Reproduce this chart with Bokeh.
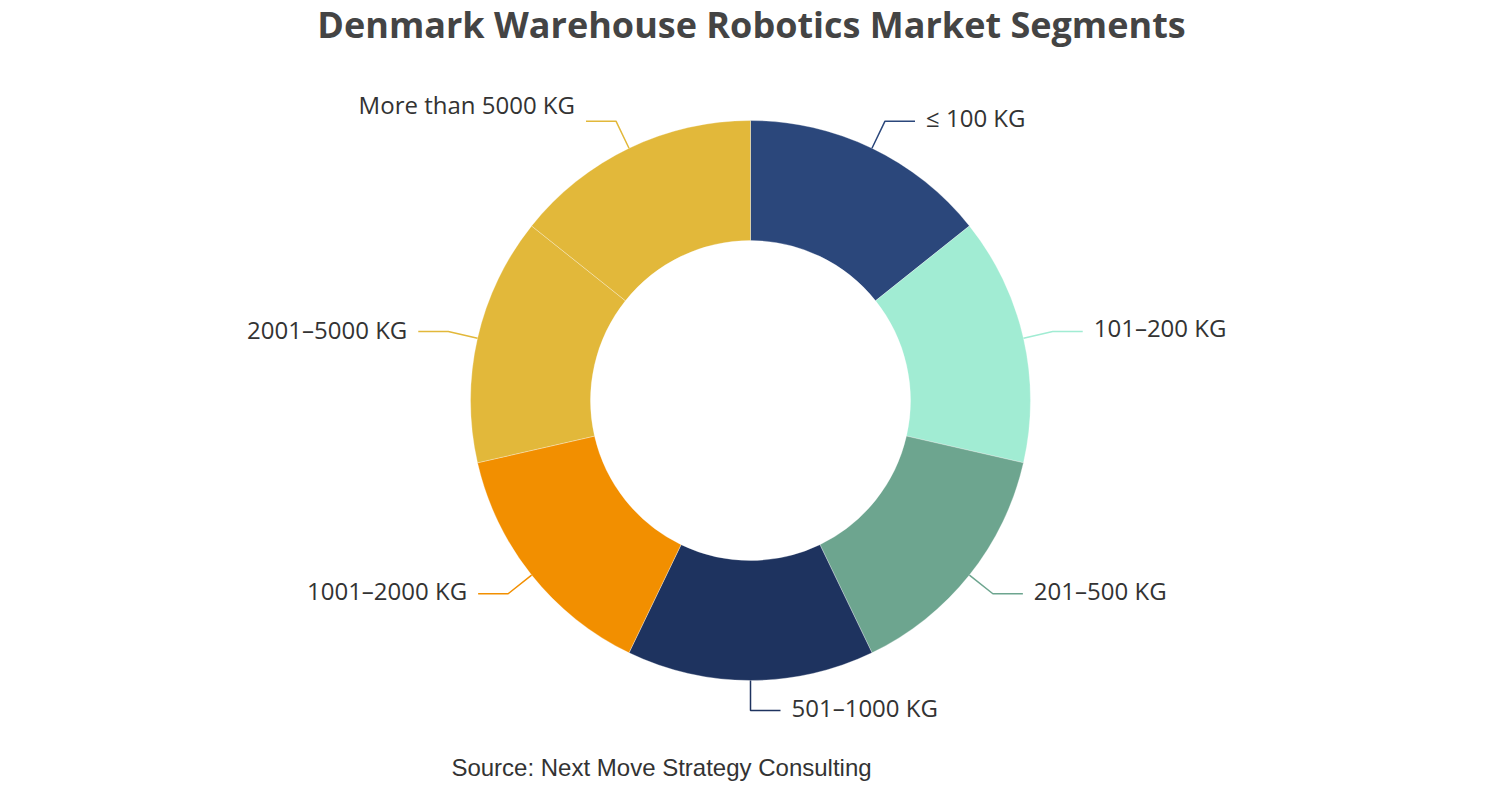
import math
from bokeh.plotting import figure
from bokeh.models import Range1d, ColumnDataSource
from bokeh.core.properties import value
from bokeh.embed import file_html
from bokeh.resources import INLINE

# ---- data ----
categories = ["≤ 100 KG", "101–200 KG", "201–500 KG", "501–1000 KG",
              "1001–2000 KG", "2001–5000 KG", "More than 5000 KG"]
shares = [1, 1, 1, 1, 1, 1, 1]
colors = ["#2b477b", "#a1ecd3", "#6da58f", "#1e335f", "#f28f00", "#e2b83a", "#e2b83a"]
title_text = "Denmark Warehouse Robotics Market Segments"
source_text = "Source: Next Move Strategy Consulting"

W, H = 1486, 784
cx, cy = 750, H - 400
r_in, r_out = 160, 280
r_elbow = 310
h_len = 30
gap = 11
# vertical nudge of each label relative to its leader line (px, up)
label_lift = [4, 4, 3, 3, 3, 2, 17]

p = figure(width=W, height=H, output_backend="svg", toolbar_location=None,
           x_range=Range1d(0, W), y_range=Range1d(0, H), min_border=0)
p.axis.visible = False
p.grid.visible = False
p.outline_line_color = None
p.background_fill_color = "white"
p.border_fill_color = "white"

total = float(sum(shares))
starts, ends, mids = [], [], []
acc = 0.0
for s in shares:
    a0 = math.pi / 2 - 2 * math.pi * acc / total
    acc += s
    a1 = math.pi / 2 - 2 * math.pi * acc / total
    starts.append(a0)
    ends.append(a1)
    mids.append((a0 + a1) / 2)

src = ColumnDataSource(dict(start=starts, end=ends, color=colors,
                            x=[cx] * len(shares), y=[cy] * len(shares)))
p.annular_wedge(x="x", y="y", inner_radius=r_in, outer_radius=r_out,
                start_angle="start", end_angle="end", direction="clock",
                fill_color="color", line_color="white", line_width=0.6,
                line_alpha=0.5, source=src)

# leader lines and labels
for lab, col, m, lift in zip(categories, colors, mids, label_lift):
    x0 = cx + r_out * math.cos(m)
    y0 = cy + r_out * math.sin(m)
    x1 = cx + r_elbow * math.cos(m)
    y1 = cy + r_elbow * math.sin(m)
    right = math.cos(m) >= -1e-9
    x2 = x1 + h_len if right else x1 - h_len
    p.line([x0, x1, x2], [y0, y1, y1], line_color=col, line_width=1.5)
    tx = x2 + gap if right else x2 - gap
    p.text(x=[tx], y=[y1 + lift], text=[lab], text_font=value("Open Sans"),
           text_font_size="24px", text_color="#333333",
           text_align="left" if right else "right", text_baseline="middle")

p.text(x=[751], y=[H - 24], text=[title_text], text_font=value("Open Sans"),
       text_font_style="bold", text_font_size="36px", text_color="#444444",
       text_align="center", text_baseline="middle")
p.text(x=[661], y=[H - 767], text=[source_text], text_font=value("Liberation Sans"),
       text_font_size="24px", text_color="#333333",
       text_align="center", text_baseline="middle")

open("out.html", "w").write(file_html(p, INLINE))
